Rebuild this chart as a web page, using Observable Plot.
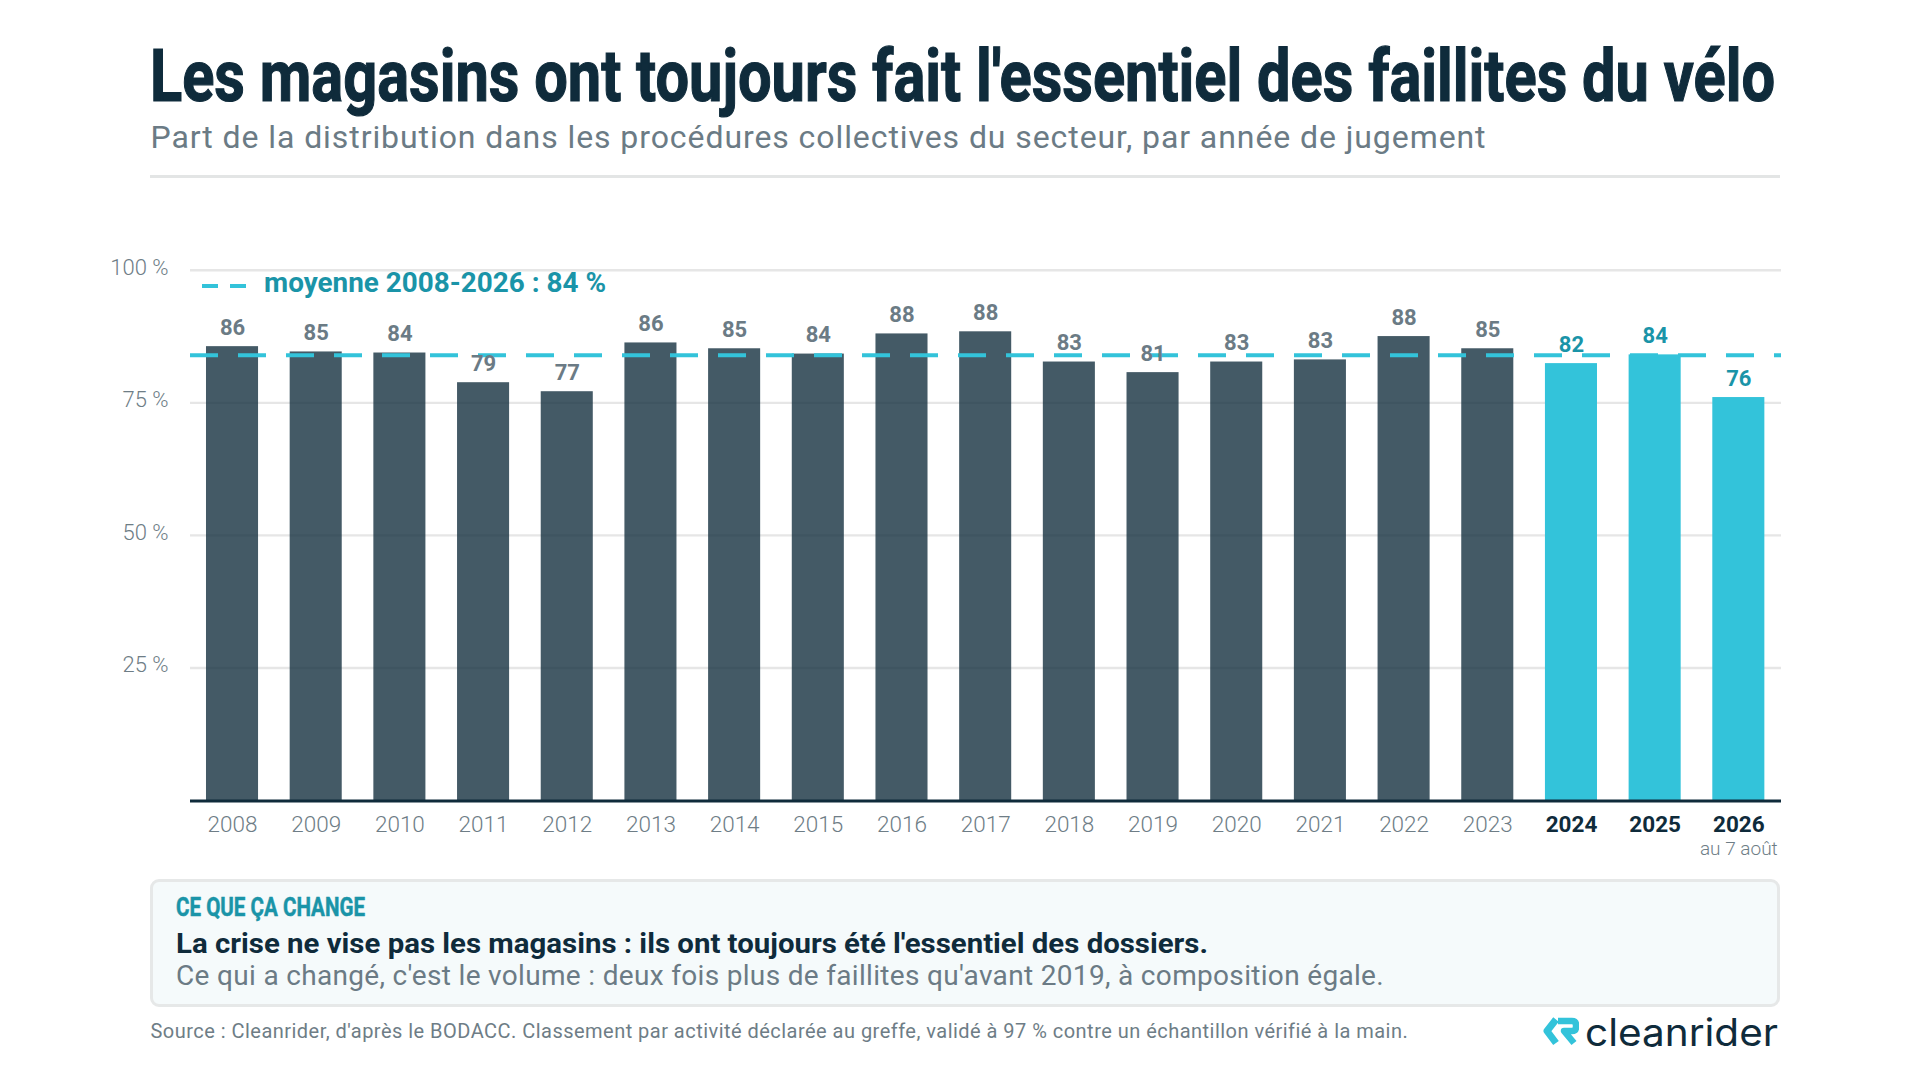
<!DOCTYPE html>
<html lang="fr">
<head>
<meta charset="utf-8">
<script src="https://cdn.jsdelivr.net/npm/d3@7"></script>
<script src="https://cdn.jsdelivr.net/npm/@observablehq/plot@0.6"></script>
<style>
html,body{margin:0;padding:0;background:#fff;width:1920px;height:1080px;overflow:hidden;font-family:Roboto,sans-serif}
.t{position:absolute;white-space:nowrap;transform-origin:0 0;line-height:1}
#chart{position:absolute;left:0;top:200px}
#box{position:absolute;left:150px;top:879px;width:1624px;height:122px;border:3px solid #e6e8e8;border-radius:9px;background:#f5fafb}
#rule{position:absolute;left:150px;top:175px;width:1630px;height:3px;background:#e3e5e5}
.dash{position:absolute;top:284px;width:16px;height:4px;background:#33c3da}
</style>
</head>
<body>
<script>
const years = [2008,2009,2010,2011,2012,2013,2014,2015,2016,2017,2018,2019,2020,2021,2022,2023,2024,2025,2026];
const shares = [85.6,84.6,84.4,78.8,77.1,86.3,85.2,84.2,88.0,88.4,82.7,80.7,82.7,83.1,87.5,85.2,82.4,84.05,76.0];
const highlightYears = [2024,2025,2026];
const regularYears = years.filter(y => !highlightYears.includes(y));
const average = 84;
const yTicks = [25,50,75,100];
const rows = years.map((year,i) => ({year, share: shares[i]}));
const navy = "#0f2b3b", cyan = "#33c3da", teal = "#1a94a8", grey = "#6e7d86", labelGrey = "#6b7b85";

const chart = Plot.plot({
  width: 1920, height: 670,
  marginTop: 69.8, marginBottom: 70, marginLeft: 190, marginRight: 139,
  style: {background: "transparent", fontFamily: "Roboto, sans-serif"},
  x: {type: "band", domain: years, paddingInner: 0.378, paddingOuter: 0.195, align: 0.49, round: false, label: null},
  y: {domain: [0,100], label: null},
  marks: [
    Plot.ruleY(yTicks, {stroke: "#e6e6e6", strokeWidth: 2.4}),
    Plot.barY(rows.filter(d => !highlightYears.includes(d.year)), {x: "year", y: "share", fill: navy, fillOpacity: 0.78}),
    Plot.barY(rows.filter(d => highlightYears.includes(d.year)), {x: "year", y: "share", fill: cyan}),
    Plot.ruleY([average], {stroke: cyan, strokeWidth: 4, strokeDasharray: "28,20"}),
    Plot.ruleY([0], {stroke: navy, strokeWidth: 3, dy: 0.5}),
    Plot.text(rows.filter(d => !highlightYears.includes(d.year)), {x: "year", y: "share", text: d => String(Math.round(d.share)), lineAnchor: "bottom", dy: -12, fontSize: 22, fontWeight: 700, fill: labelGrey}),
    Plot.text(rows.filter(d => highlightYears.includes(d.year)), {x: "year", y: "share", text: d => String(Math.round(d.share)), lineAnchor: "bottom", dy: -12, fontSize: 22, fontWeight: 700, fill: teal}),
    Plot.axisY({ticks: yTicks, tickSize: 0, tickPadding: 22, tickFormat: d => d + " %", fontSize: 22, fontWeight: 300, fill: grey, dy: -2.5, label: null}),
    Plot.axisX({ticks: regularYears, tickSize: 0, tickPadding: 16, tickFormat: d => String(d), fontSize: 22.5, fontWeight: 300, fill: grey, label: null}),
    Plot.axisX({ticks: highlightYears, tickSize: 0, tickPadding: 16, tickFormat: d => String(d), fontSize: 22.5, fontWeight: 700, fill: navy, label: null}),
    Plot.axisX({ticks: [2026], tickSize: 0, tickPadding: 41, tickFormat: () => "au 7 août", fontSize: 19, fontWeight: 300, fill: grey, label: null})
  ]
});
chart.id = "chart";
document.body.appendChild(chart);

// Places a line of text on its baseline and fits it to the reference width,
// either by squeezing it (scale) or by tracking it out (spacing).
function add(text, x, base, size, weight, color, width, opts = {}) {
  const el = document.createElement("div");
  el.className = "t";
  el.textContent = text;
  el.style.cssText = `left:${x}px;font-size:${size}px;font-weight:${weight};color:${color};font-family:${opts.family || "Roboto, sans-serif"}`;
  if (opts.stroke) el.style.webkitTextStroke = `${opts.stroke}px ${color}`;
  document.body.appendChild(el);
  const w = el.getBoundingClientRect().width;
  el.style.top = (base - size * 0.84) + "px";
  if (opts.spacing) el.style.letterSpacing = ((width - w) / text.length) + "px";
  else el.style.transform = `scaleX(${width / w})`;
  return el;
}
const rule = document.createElement("div"); rule.id = "rule"; document.body.appendChild(rule);
const box = document.createElement("div"); box.id = "box"; document.body.appendChild(box);
const narrow = "'Liberation Sans Narrow', Roboto, sans-serif";
add("Les magasins ont toujours fait l'essentiel des faillites du vélo", 150, 101, 72, 700, navy, 1625, {family: narrow, stroke: 1.2});
add("Part de la distribution dans les procédures collectives du secteur, par année de jugement", 150.5, 148, 32, 400, labelGrey, 1336, {spacing: true});
add("moyenne 2008-2026 : 84 %", 264, 293, 27, 700, teal, 342);
add("CE QUE ÇA CHANGE", 175.5, 916, 26, 700, teal, 189, {family: narrow, stroke: 0.5});
add("La crise ne vise pas les magasins : ils ont toujours été l'essentiel des dossiers.", 176, 954, 28, 700, navy, 1032);
add("Ce qui a changé, c'est le volume : deux fois plus de faillites qu'avant 2019, à composition égale.", 176, 986, 28, 400, labelGrey, 1208, {spacing: true});
add("Source : Cleanrider, d'après le BODACC. Classement par activité déclarée au greffe, validé à 97 % contre un échantillon vérifié à la main.", 150.5, 1038, 20, 400, grey, 1257, {spacing: true});
add("cleanrider", 1585, 1045, 38, 400, navy, 193, {family: "Inter, sans-serif"});
[202,230].forEach(x => { const d = document.createElement("div"); d.className = "dash"; d.style.left = x + "px"; document.body.appendChild(d); });
const logo = document.createElementNS("http://www.w3.org/2000/svg","svg");
logo.setAttribute("width",36); logo.setAttribute("height",30); logo.setAttribute("viewBox","0 0 36 30");
logo.style.cssText = "position:absolute;left:1543px;top:1016px";
logo.innerHTML = `<path d="M13 3.5 L4 15 L13 27" fill="none" stroke="${cyan}" stroke-width="7" stroke-linejoin="round"/><path d="M15 5 H29 Q33 5 33 9 V11 Q33 15 29 15 H21 L31 27" fill="none" stroke="${cyan}" stroke-width="6.5" stroke-linejoin="round"/>`;
document.body.appendChild(logo);
</script>
</body>
</html>
